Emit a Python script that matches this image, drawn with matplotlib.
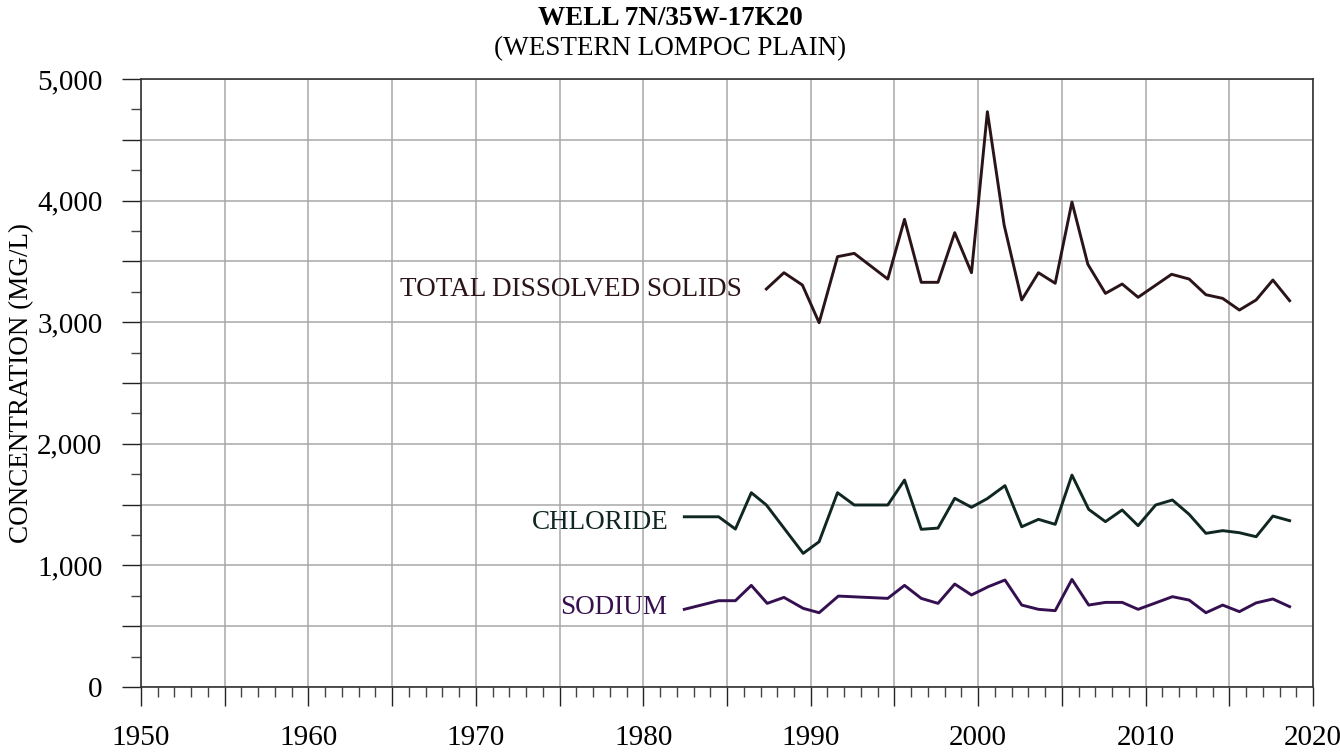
"""Well 7N/35W-17K20 water quality concentration history."""

import matplotlib

matplotlib.use("Agg")

import matplotlib.pyplot as plt  # noqa: E402
from matplotlib.ticker import FuncFormatter, MultipleLocator  # noqa: E402


TDS_YEARS = [1987.35, 1988.4, 1989.5, 1990.5, 1991.6, 1992.6, 1994.6, 1995.6,
             1996.6, 1997.6, 1998.6, 1999.6, 2000.55, 2001.55, 2002.6, 2003.6,
             2004.6, 2005.6, 2006.55, 2007.6, 2008.6, 2009.55, 2011.55, 2012.6,
             2013.6, 2014.6, 2015.6, 2016.6, 2017.6, 2018.6]
TDS_VALUES = [3273, 3407, 3306, 2996, 3539, 3566, 3355, 3846,
              3328, 3328, 3736, 3407, 4731, 3799, 3183, 3407,
              3320, 3988, 3476, 3237, 3314, 3205, 3394, 3355,
              3226, 3196, 3100, 3183, 3347, 3177]

CHLORIDE_YEARS = [1982.45, 1984.5, 1985.5, 1986.45, 1987.35, 1989.55, 1990.5,
                  1991.6, 1992.6, 1994.6, 1995.6, 1996.6, 1997.6, 1998.6,
                  1999.6, 2000.55, 2001.6, 2002.6, 2003.6, 2004.6, 2005.6,
                  2006.6, 2007.6, 2008.6, 2009.55, 2010.6, 2011.6, 2012.6,
                  2013.6, 2014.6, 2015.6, 2016.6, 2017.6, 2018.6]
CHLORIDE_VALUES = [1400, 1400, 1299, 1598, 1497, 1099, 1195,
                   1598, 1497, 1497, 1702, 1297, 1307, 1552,
                   1478, 1550, 1656, 1318, 1379, 1338, 1743,
                   1461, 1360, 1456, 1327, 1497, 1538, 1420,
                   1264, 1286, 1269, 1236, 1406, 1368]

SODIUM_YEARS = [1982.45, 1984.5, 1985.5, 1986.45, 1987.4, 1988.4, 1989.55,
                1990.5, 1991.65, 1994.6, 1995.6, 1996.6, 1997.6, 1998.6,
                1999.6, 2000.6, 2001.6, 2002.6, 2003.6, 2004.6, 2005.6,
                2006.6, 2007.6, 2008.6, 2009.55, 2010.6, 2011.6, 2012.6,
                2013.6, 2014.6, 2015.6, 2016.6, 2017.6, 2018.6]
SODIUM_VALUES = [639, 710, 710, 836, 688, 737, 647,
                 611, 748, 729, 836, 729, 688, 847,
                 757, 825, 880, 674, 639, 628, 885,
                 674, 696, 696, 639, 692, 743, 715,
                 611, 674, 620, 692, 724, 661]

TDS_COLOR = "#2a1418"
CHLORIDE_COLOR = "#0f2622"
SODIUM_COLOR = "#351050"
GRID_COLOR = "#a8a8a8"
SERIF = ["Liberation Serif", "DejaVu Serif"]


def year_label(value, _pos):
    return f"{int(round(value))}" if round(value) % 10 == 0 else ""


def conc_label(value, _pos):
    return f"{int(round(value)):,}" if round(value) % 1000 == 0 else ""


def main() -> None:
    plt.rcParams["font.family"] = SERIF
    fig = plt.figure(figsize=(13.4, 7.53), dpi=100)
    ax = fig.add_axes([0.1052, 0.0876, 0.8747, 0.8075])

    ax.plot(TDS_YEARS, TDS_VALUES, color=TDS_COLOR, linewidth=2.1)
    ax.plot(CHLORIDE_YEARS, CHLORIDE_VALUES, color=CHLORIDE_COLOR, linewidth=2.1)
    ax.plot(SODIUM_YEARS, SODIUM_VALUES, color=SODIUM_COLOR, linewidth=2.1)

    ax.text(1985.9, 3273, "TOTAL DISSOLVED SOLIDS", ha="right", va="center",
            fontsize=19.5, color=TDS_COLOR)
    ax.text(1981.5, 1349, "CHLORIDE", ha="right", va="center",
            fontsize=19.5, color=CHLORIDE_COLOR)
    ax.text(1981.4, 658, "SODIUM", ha="right", va="center",
            fontsize=19.5, color=SODIUM_COLOR)

    ax.set_xlim(1950, 2020)
    ax.set_ylim(0, 5000)
    ax.xaxis.set_major_locator(MultipleLocator(5))
    ax.xaxis.set_minor_locator(MultipleLocator(1))
    ax.xaxis.set_major_formatter(FuncFormatter(year_label))
    ax.yaxis.set_major_locator(MultipleLocator(500))
    ax.yaxis.set_minor_locator(MultipleLocator(250))
    ax.yaxis.set_major_formatter(FuncFormatter(conc_label))

    ax.grid(True, which="major", color=GRID_COLOR, linewidth=1.1, zorder=0)
    ax.set_axisbelow(True)

    ax.tick_params(axis="both", which="major", direction="out", length=13.7,
                   width=1.0, labelsize=21, colors="#222222",
                   labelcolor="black")
    ax.tick_params(axis="both", which="minor", direction="out", length=7.2,
                   width=1.0, colors="#444444")
    ax.tick_params(axis="x", which="major", pad=13.5)
    ax.tick_params(axis="y", which="major", pad=14)

    for side in ("left", "bottom", "right", "top"):
        ax.spines[side].set_color("#333333")
        ax.spines[side].set_linewidth(1.2)

    ax.set_ylabel("CONCENTRATION (MG/L)", fontsize=19.5, labelpad=2)

    fig.text(0.5, 0.976, "WELL 7N/35W-17K20", ha="center", va="center",
             fontsize=19.5, fontweight="bold")
    fig.text(0.5, 0.936, "(WESTERN LOMPOC PLAIN)", ha="center", va="center",
             fontsize=19.5)

    fig.savefig("out.png", dpi=100)
    plt.close(fig)


if __name__ == "__main__":
    main()
